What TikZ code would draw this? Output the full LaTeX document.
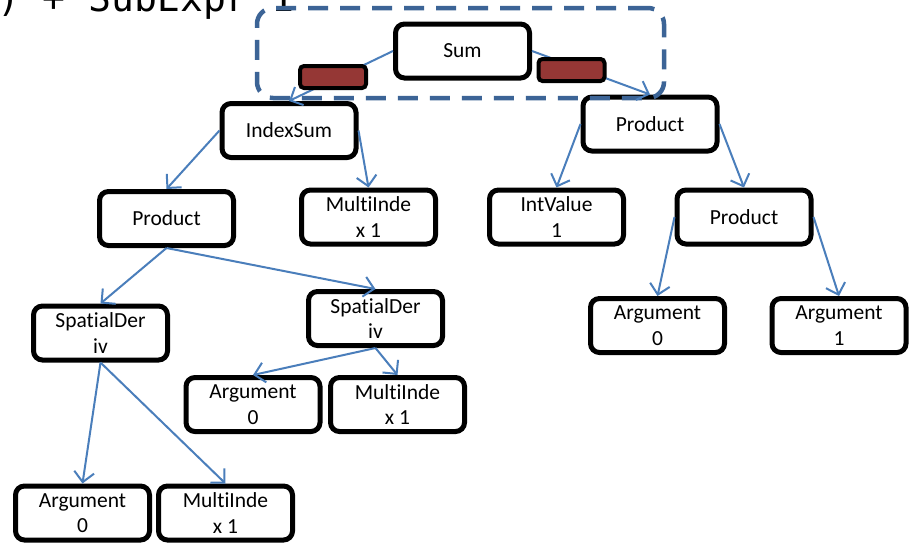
\documentclass[tikz,border=0pt]{standalone}
\usepackage{fontspec}
\setmainfont{Carlito}[Ligatures=NoCommon]
\newfontfamily\topmono{DejaVu Sans Mono}
\usetikzlibrary{arrows.meta}
\definecolor{arrowblue}{HTML}{4A7EBB}
\definecolor{grpblue}{HTML}{3C6496}
\definecolor{markred}{HTML}{953735}
\newcommand\nodefs{\fontsize{21.5}{25.5}\selectfont}
\tikzset{
  treebox/.style={draw=black, line width=5pt, rounded corners=9pt, fill=white,
    minimum width=134pt, minimum height=54pt, align=center, inner sep=0pt, font=\nodefs},
  conn/.style={draw=arrowblue, line width=2pt, -{Straight Barb[length=10pt,width=20pt]}},
  grpbox/.style={draw=grpblue, line width=4.5pt, dash pattern=on 20pt off 12pt,
    rounded corners=16pt, minimum width=407pt, minimum height=90pt, inner sep=0pt},
  marker/.style={draw=black, fill=markred, line width=4pt, rounded corners=4pt,
    minimum width=66pt, minimum height=22pt, inner sep=0pt},
}
\begin{document}
\begin{tikzpicture}[x=1pt,y=-1pt]
\useasboundingbox (0,0) rectangle (912,544);
\clip (0,0) rectangle (912,544);
\fill[white] (0,0) rectangle (912,544);
\node[anchor=base west, inner sep=0pt, font=\topmono\fontsize{38}{40}\selectfont] (title) at (-3,11) {) + SubExpr 1};

\node[treebox] (sum)   at (462.5,51)  {Sum};
\node[treebox] (idx)   at (289,130.5) {IndexSum};
\node[treebox] (prodR) at (650,124)   {Product};
\node[treebox] (prodL) at (166.5,218.5) {Product};
\node[treebox] (miA)   at (368.5,217) {MultiInde\\x 1};
\node[treebox] (intv)  at (556.5,217) {IntValue\\1};
\node[treebox] (prodT) at (744,217)   {Product};
\node[treebox] (sdL)   at (100.5,333) {SpatialDer\\iv};
\node[treebox] (sdR)   at (375.5,318.5) {SpatialDer\\iv};
\node[treebox] (argM)  at (253,404.5) {Argument\\0};
\node[treebox] (miM)   at (397.5,404.5) {MultiInde\\x 1};
\node[treebox] (argRa) at (657.5,325.5) {Argument\\0};
\node[treebox] (argRb) at (839,325.5) {Argument\\1};
\node[treebox] (argB)  at (82.5,513)  {Argument\\0};
\node[treebox] (miB)   at (225.5,513) {MultiInde\\x 1};

\node[grpbox] (grp) at (460.5,53) {};

\draw[conn] (sum.west) -- (idx.north);
\draw[conn] (sum.east) -- (prodR.north);
\draw[conn] (idx.west) -- (prodL.north);
\draw[conn] (idx.east) -- (miA.north);
\draw[conn] (prodL.south) -- (sdL.north);
\draw[conn] (prodL.south) -- (sdR.north);
\draw[conn] (sdR.south) -- (argM.north);
\draw[conn] (sdR.south) -- (miM.north);
\draw[conn] (sdL.south) -- (argB.north);
\draw[conn] (sdL.south) -- (miB.north);
\draw[conn] (prodR.west) -- (intv.north);
\draw[conn] (prodR.east) -- (prodT.north);
\draw[conn] (prodT.west) -- (argRa.north);
\draw[conn] (prodT.east) -- (argRb.north);

\node[marker] (mkL) at (333,77) {};
\node[marker] (mkR) at (571.5,70) {};
\end{tikzpicture}
\end{document}
